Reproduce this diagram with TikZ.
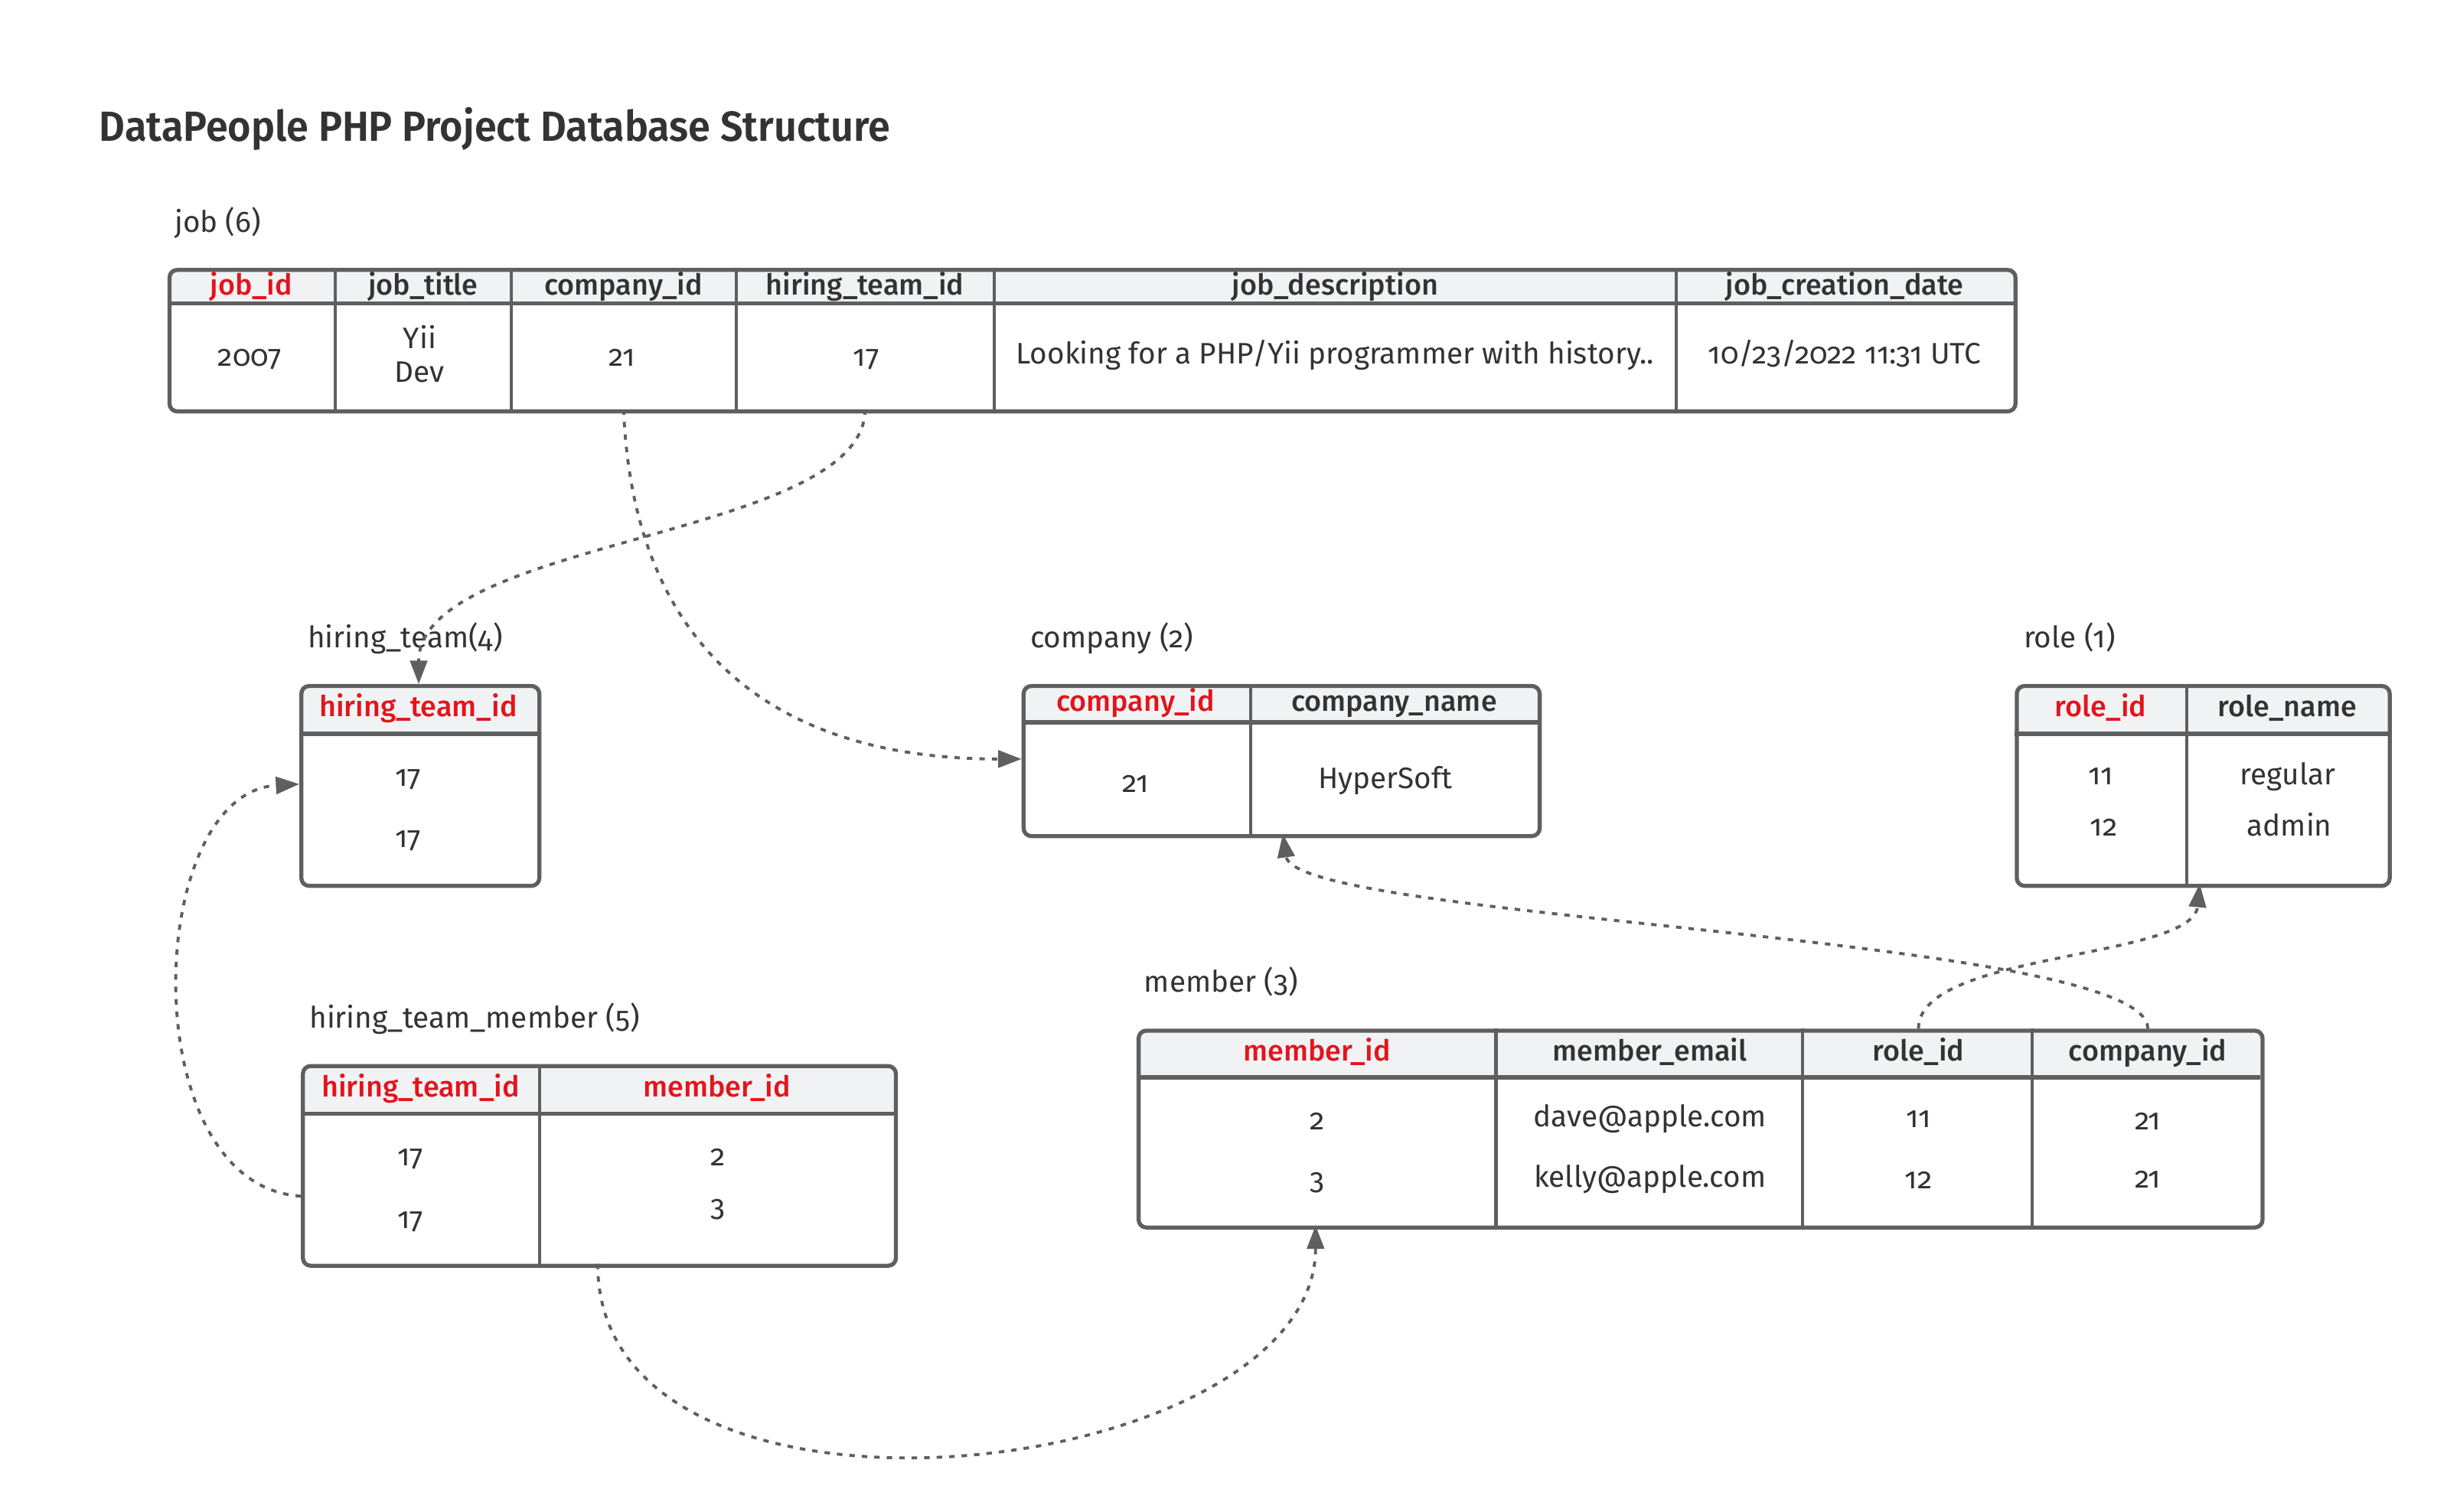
\documentclass[tikz,border=0pt]{standalone}
\usepackage{fontspec}
\usepackage{graphicx}
\setmainfont{Fira Sans}[Numbers=OldStyle, BoldFont={Fira Sans Medium}]
\newfontfamily\titlefont{Fira Sans SemiBold}
\usetikzlibrary{arrows.meta}
\definecolor{bord}{HTML}{5F5F5F}
\definecolor{hdr}{HTML}{F1F2F4}
\definecolor{pk}{HTML}{E3141B}
\definecolor{txt}{HTML}{333333}
\tikzset{
  tbl/.style={draw=bord, line width=2.6pt, rounded corners=5pt, inner sep=0pt, anchor=north west},
  hline/.style={draw=bord, line width=2.8pt},
  vline/.style={draw=bord, line width=2pt},
  cell/.style={anchor=base, inner sep=0pt, text=txt, font=\fontsize{19}{23}\selectfont},
  hcell/.style={cell, font=\fontsize{18.5}{22}\selectfont\bfseries},
  pkcell/.style={hcell, text=pk},
  lbl/.style={anchor=base west, inner sep=0pt, text=txt, font=\fontsize{19}{23}\selectfont},
  fk/.style={draw=bord, line width=1.9pt, dash pattern=on 3.5pt off 4.5pt,
    -{Triangle[length=15pt,width=11pt]}},
}
% #1 name, #2 x1, #3 y1, #4 x2, #5 yh, #6 y2
\newcommand\tablebox[6]{%
  \fill[white, rounded corners=5pt] (#2,#3) rectangle (#4,#6);
  \fill[hdr, rounded corners=5pt] (#2,#3) rectangle (#4,#5);
  \fill[hdr] (#2,#5-7) rectangle (#4,#5);
  \node[tbl, minimum width={#4pt-#2pt}, minimum height={#6pt-#3pt}] (#1) at (#2,#3) {};
  \draw[hline] (#2,#5) -- (#4,#5);
}
\begin{document}
\begin{tikzpicture}[x=1pt, y=-1pt]
\useasboundingbox (0,0) rectangle (1568,969.1);
\fill[white] (0,0) rectangle (1568,969.1);

% title
\node[anchor=base west, inner sep=0pt, text=txt] (title) at (63.5,90.7)
  {\resizebox{507pt}{\height}{\titlefont\fontsize{27}{30}\selectfont DataPeople PHP Project Database Structure}};

% ---------------- job ----------------
\node[lbl] (jobl) at (111.7,149) {job (6)};
\tablebox{job}{107.3}{171.7}{1290.2}{194.5}{262.4}
\foreach \xx in {214.6,327.6,471.6,637.1,1074} \draw[vline] (\xx,171.7) -- (\xx,262.4);
\node[pkcell] (jh1) at (161,189) {job\_id};
\node[hcell] (jh2) at (271.1,189) {job\_title};
\node[hcell] (jh3) at (399.6,189) {company\_id};
\node[hcell] (jh4) at (554.3,189) {hiring\_team\_id};
\node[hcell] (jh5) at (855.5,189) {job\_description};
\node[hcell] (jh6) at (1182,189) {job\_creation\_date};
\node[cell] (jb1) at (160,234.6) {2007};
\node[cell] (jb2a) at (269,223.2) {Yii};
\node[cell] (jb2b) at (269,244.9) {Dev};
\node[cell] (jb3) at (398.6,234.6) {21};
\node[cell] (jb4) at (555,234.6) {17};
\node[cell] (jb5) at (855.5,233) {Looking for a PHP/Yii programmer with history..};
\node[cell] (jb6) at (1182,233) {10/23/2022 11:31 UTC};

% ---------------- hiring_team ----------------
\node[lbl] (htl) at (197,415.2) {hiring\_team(4)};
\tablebox{ht}{191.8}{438.4}{344.3}{470.3}{566.5}
\node[pkcell] (hth1) at (268,459.5) {hiring\_team\_id};
\node[cell] (htb1) at (261.6,503.7) {17};
\node[cell] (htb2) at (261.6,543.4) {17};

% ---------------- company ----------------
\node[lbl] (cl) at (660,415.2) {company (2)};
\tablebox{co}{654.6}{438.4}{985.3}{463}{534.6}
\draw[vline] (801.4,438.4) -- (801.4,534.6);
\node[pkcell] (coh1) at (727.7,456.1) {company\_id};
\node[hcell] (coh2) at (893.3,456.1) {company\_name};
\node[cell] (cob1) at (727.7,508) {21};
\node[cell] (cob2) at (887.7,505.5) {HyperSoft};

% ---------------- role ----------------
\node[lbl] (rl) at (1296.6,415.2) {role (1)};
\tablebox{ro}{1291}{438.4}{1530}{470.5}{566.5}
\draw[vline] (1401.2,438.4) -- (1401.2,566.5);
\node[pkcell] (roh1) at (1346.1,459.4) {role\_id};
\node[hcell] (roh2) at (1465.6,459.4) {role\_name};
\node[cell] (rob1) at (1346,503.2) {11};
\node[cell] (rob2) at (1466,503.2) {regular};
\node[cell] (rob3) at (1348,535.9) {12};
\node[cell] (rob4) at (1467,535.9) {admin};

% ---------------- hiring_team_member ----------------
\node[lbl] (hml) at (198.1,658.8) {hiring\_team\_member (5)};
\tablebox{hm}{192.8}{682}{572.8}{713.9}{810}
\draw[vline] (345.8,682) -- (345.8,810);
\node[pkcell] (hmh1) at (269.5,703.3) {hiring\_team\_id};
\node[pkcell] (hmh2) at (459.4,703.3) {member\_id};
\node[cell] (hmb1) at (263,747.1) {17};
\node[cell] (hmb2) at (263,787.6) {17};
\node[cell] (hmb3) at (460,747) {2};
\node[cell] (hmb4) at (460,779.8) {3};

% ---------------- member ----------------
\node[lbl] (ml) at (733,636) {member (3)};
\tablebox{me}{728.3}{659.3}{1448.5}{690.7}{785.5}
\foreach \xx in {958.6,1155.1,1302.1} \draw[vline] (\xx,659.3) -- (\xx,785.5);
\node[pkcell] (meh1) at (843.9,680) {member\_id};
\node[hcell] (meh2) at (1057.3,680) {member\_email};
\node[hcell] (meh3) at (1229.3,680) {role\_id};
\node[hcell] (meh4) at (1376.3,680) {company\_id};
\node[cell] (meb1) at (843.9,724.2) {2};
\node[cell] (meb2) at (1057.3,722.3) {dave@apple.com};
\node[cell] (meb3) at (1229.3,722.9) {11};
\node[cell] (meb4) at (1376.3,724) {21};
\node[cell] (meb5) at (843.9,762.6) {3};
\node[cell] (meb6) at (1057.3,761) {kelly@apple.com};
\node[cell] (meb7) at (1229.3,762) {12};
\node[cell] (meb8) at (1376.3,761.6) {21};

% ---------------- connectors ----------------
\coordinate (jobCo) at (399.6,262.4);
\coordinate (coIn) at (654.6,486.5);
\coordinate (jobHt) at (554.3,262.4);
\coordinate (htTop) at (268.3,438.4);
\coordinate (hmLeft) at (192.8,766.7);
\coordinate (htLeft) at (191.8,502.6);
\coordinate (hmBot) at (383,810);
\coordinate (meBot) at (843,785.5);
\coordinate (meRole) at (1229.3,659.3);
\coordinate (roBot) at (1409.5,566.5);
\coordinate (meCo) at (1376.3,659.3);
\coordinate (coBot) at (822,534.6);

\draw[fk] (jobCo) .. controls (405,400) and (480,486.5) .. (coIn);
\draw[fk] (jobHt) .. controls (554.3,345) and (268.3,345) .. (htTop);
\draw[fk] (hmLeft) .. controls (85,760) and (92,508) .. (htLeft);
\draw[fk] (hmBot) .. controls (383,1002.7) and (843,949.7) .. (meBot);
\draw[fk] (meRole) .. controls (1229.3,610) and (1405,615) .. (roBot);
\draw[fk] (meCo) .. controls (1376.3,600) and (830,590) .. (coBot);
\end{tikzpicture}
\end{document}
